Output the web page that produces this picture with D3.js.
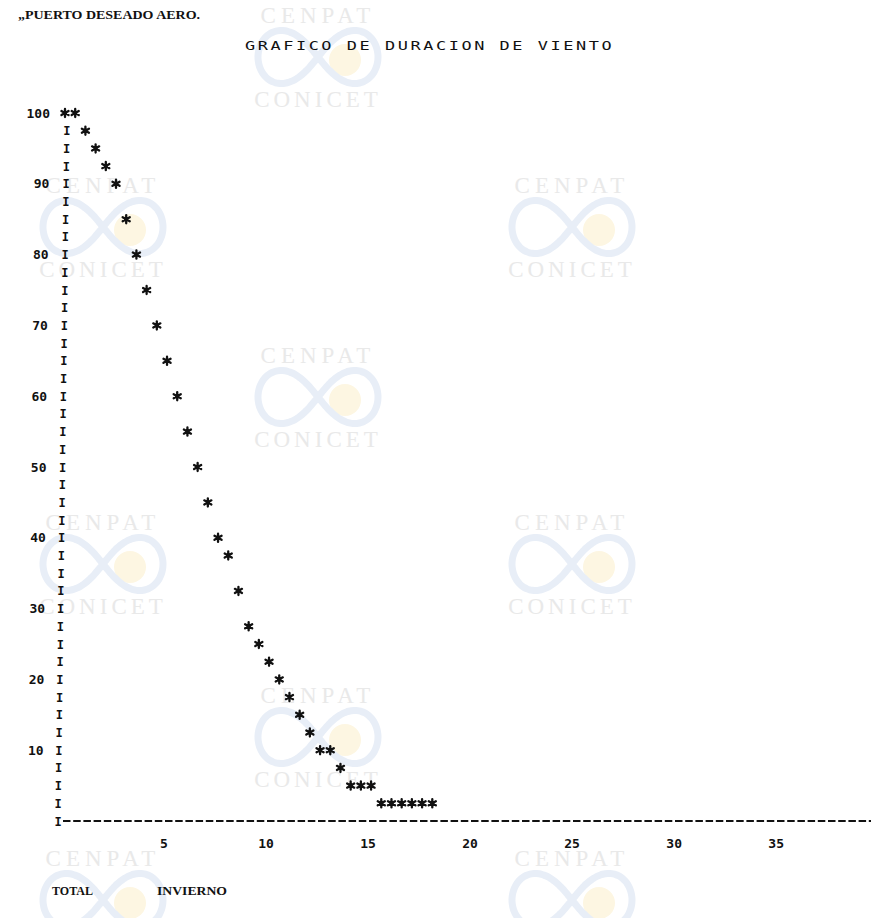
<!DOCTYPE html>
<html>
<head>
<meta charset="utf-8">
<script src="https://cdn.jsdelivr.net/npm/d3@7"></script>
<style>
  html, body { margin: 0; padding: 0; background: #fff; }
  svg { display: block; }
</style>
</head>
<body>
<svg id="chart" width="878" height="918"></svg>
<script>
// ---- data ----
const station = "\u201EPUERTO DESEADO AERO.";
const chartTitle = "GRAFICO DE DURACION DE VIENTO";
const footerLeft = "TOTAL";
const footerRight = "INVIERNO";

// duration (x) and percent (y) of each printed "*"
const durX = [0,0.5,1,1.5,2,2.5,3,3.5,4,4.5,5,5.5,6,6.5,7,7.5,8,8.5,9,9.5,10,10.5,11,11.5,12,12.5,13,13.5,14,14.5,15,15.5,16,16.5,17,17.5,18];
const pctY = [100,100,97.5,95,92.5,90,85,80,75,70,65,60,55,50,45,40,37.5,32.5,27.5,25,22.5,20,17.5,15,12.5,10,10,7.5,5,5,5,2.5,2.5,2.5,2.5,2.5,2.5];

const yTicks = [100,90,80,70,60,50,40,30,20,10];
const xTicks = [5,10,15,20,25,30,35];
const rowStep = 2.5; // one printer line

const svg = d3.select("#chart");

// ---- watermarks (scan overlay) ----
const wm = svg.append("g").attr("class","watermark");
const wmSpots = [
  {cx:318, t:15, full:true},{cx:318, t:355, full:true},{cx:318, t:695, full:true},
  {cx:103, t:185, full:true},{cx:572, t:185, full:true},
  {cx:103, t:522, full:true},{cx:572, t:522, full:true},
  {cx:103, t:858, full:false},{cx:572, t:858, full:false}
];
const lem = d3.range(0, 2*Math.PI + 0.01, 0.05).map(t => {
  const s = Math.sin(t), c = Math.cos(t), d = 1 + s*s;
  return [60*c/d, 1.25*60*s*c/d];
});
const lemLine = d3.line().curve(d3.curveCardinalClosed);
wmSpots.forEach(p => {
  const g = wm.append("g");
  g.append("text").attr("x", p.cx).attr("y", p.t + 8)
    .attr("text-anchor","middle")
    .style("font-family","'Liberation Serif', serif").style("font-size","23px")
    .style("letter-spacing","5px").attr("fill","#e9e9e9").text("CENPAT");
  const lg = g.append("g").attr("transform", `translate(${p.cx},${p.t+42})`);
  lg.append("circle").attr("cx", 27).attr("cy", 3).attr("r", 16).attr("fill","#fdf6e2");
  lg.append("path").attr("d", lemLine(lem)).attr("fill","none")
    .attr("stroke","#e8eef7").attr("stroke-width", 7);
  if (p.full) {
    g.append("text").attr("x", p.cx).attr("y", p.t + 92)
      .attr("text-anchor","middle")
      .style("font-family","'Liberation Serif', serif").style("font-size","23px")
      .style("letter-spacing","4px").attr("fill","#e9e9e9").text("CONICET");
  }
});

// ---- scales ----
const x = d3.scaleLinear().domain([0, 39.5]).range([65, 871]);
const y = d3.scaleLinear().domain([0, 100]).range([821, 113]);

const mono = "'DejaVu Sans Mono', 'Liberation Mono', monospace";
const serif = "'Liberation Serif', 'DejaVu Serif', serif";
const ink = "#111";

// header
svg.append("text").attr("x", 18).attr("y", 19)
  .attr("textLength", 182).attr("lengthAdjust","spacingAndGlyphs")
  .style("font-family", serif)
  .style("font-weight","bold").style("font-size","13px")
  .attr("fill", ink).text(station);

svg.append("text")
  .attr("transform", "translate(245,50) scale(1.3,1)")
  .attr("textLength", 282).attr("lengthAdjust","spacing")
  .style("font-family", mono).style("font-size","13px")
  .attr("fill", ink).text(chartTitle);

// ---- y axis made of printed "I" ----
const axisX = v => 58 + 9*(v/100);       // slight scan skew
const labelRight = v => 43 + 7*(v/100);
const rows = d3.range(0, 100, rowStep);
svg.append("g").selectAll("text").data(rows).join("text")
  .attr("x", d => axisX(d)).attr("y", d => y(d) + 4.5)
  .attr("text-anchor","middle")
  .style("font-family", mono).style("font-weight","bold").style("font-size","12px")
  .attr("fill", ink).text("I");

svg.append("g").selectAll("text").data(yTicks).join("text")
  .attr("x", d => labelRight(d)).attr("y", d => y(d) + 4.5)
  .attr("text-anchor","end")
  .style("font-family", mono).style("font-weight","bold").style("font-size","13px")
  .attr("fill", ink).text(d => d);

// ---- x axis made of printed dashes ----
svg.append("line")
  .attr("x1", x(0) - 2).attr("x2", x(39.5))
  .attr("y1", y(0)).attr("y2", y(0))
  .attr("stroke", ink).attr("stroke-width", 2)
  .attr("stroke-dasharray", "7.5,2.7");

svg.append("g").selectAll("text").data(xTicks).join("text")
  .attr("x", d => x(d) - 3).attr("y", y(0) + 27)
  .attr("text-anchor","middle")
  .style("font-family", mono).style("font-weight","bold").style("font-size","13px")
  .attr("fill", ink).text(d => d);

// ---- printed asterisks ----
const pts = durX.map((d, i) => ({x: d, y: pctY[i]}));
const r = 4.1;
const starPath = d3.range(3).map(k => {
  const a = Math.PI/2 + k*Math.PI/3;
  const dx = r*Math.cos(a), dy = r*Math.sin(a);
  return `M${-dx},${-dy}L${dx},${dy}`;
}).join("");
const stars = svg.append("g").selectAll("g").data(pts).join("g")
  .attr("transform", d => `translate(${x(d.x)},${y(d.y)})`);
stars.append("path").attr("d", starPath).attr("stroke", ink)
  .attr("stroke-width", 2.3).attr("stroke-linecap","round");
stars.append("circle").attr("r", 2.2).attr("fill", ink);

// footer
svg.append("text").attr("x", 52).attr("y", 895)
  .attr("textLength", 41).attr("lengthAdjust","spacingAndGlyphs")
  .style("font-family", serif)
  .style("font-weight","bold").style("font-size","12.5px")
  .attr("fill", ink).text(footerLeft);
svg.append("text").attr("x", 157).attr("y", 895)
  .attr("textLength", 70).attr("lengthAdjust","spacingAndGlyphs")
  .style("font-family", serif)
  .style("font-weight","bold").style("font-size","12.5px")
  .attr("fill", ink).text(footerRight);
</script>
</body>
</html>
